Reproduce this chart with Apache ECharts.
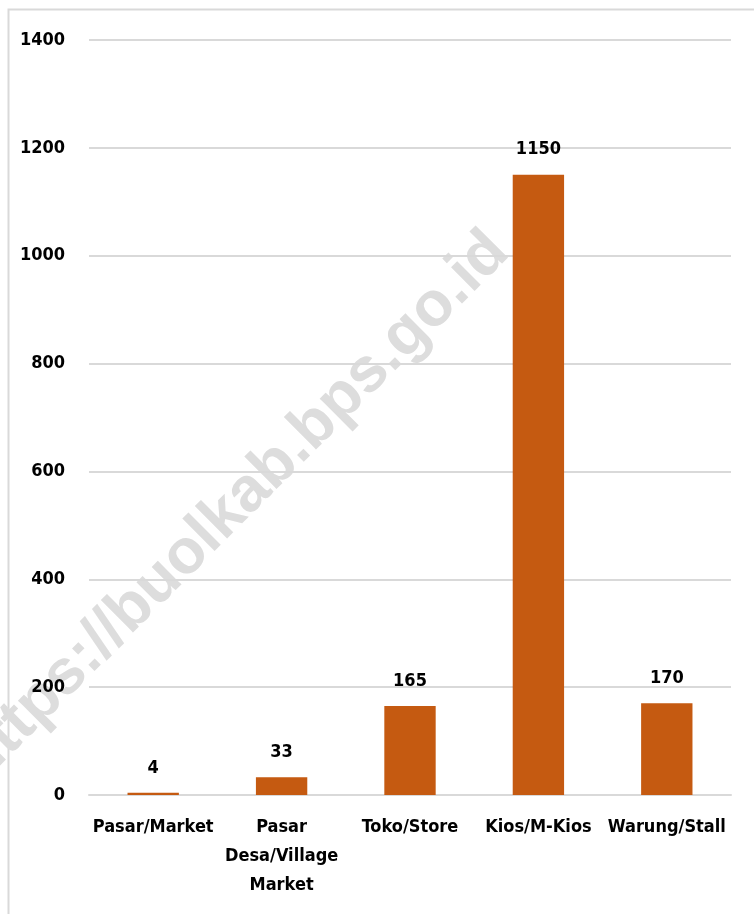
<!DOCTYPE html>
<html>
<head>
<meta charset="utf-8">
<script src="https://cdn.jsdelivr.net/npm/echarts@6/dist/echarts.min.js"></script>
<style>
  html, body { margin: 0; padding: 0; background: #ffffff; }
  #chart { width: 754px; height: 914px; }
</style>
</head>
<body>
<div id="chart"></div>
<script>
// Outlet types (category axis)
const categories = ['Pasar/Market', 'Pasar\nDesa/Village\nMarket', 'Toko/Store', 'Kios/M-Kios', 'Warung/Stall'];
// Number of outlets per type
const counts = [4, 33, 165, 1150, 170];
// Value axis ticks
const yTicks = [0, 200, 400, 600, 800, 1000, 1200, 1400];

const FONT = '"DejaVu Sans Condensed", "Liberation Sans Narrow", sans-serif';
const chart = echarts.init(document.getElementById('chart'), null, { renderer: 'canvas' });

chart.setOption({
  backgroundColor: '#ffffff',
  animation: false,
  grid: { left: 89, right: 23, top: 40, bottom: 119 },
  graphic: [
    {
      type: 'rect',
      z: -20,
      silent: true,
      shape: { x: 8.5, y: 9.5, width: 900, height: 1000 },
      style: { fill: 'none', stroke: '#d9d9d9', lineWidth: 2 }
    },
    {
      // diagonal site watermark
      type: 'text',
      z: -10,
      silent: true,
      x: 234,
      y: 507,
      rotation: Math.PI / 4,
      style: {
        text: 'https://buolkab.bps.go.id',
        font: 'bold 63px "Liberation Sans", Arial, sans-serif',
        fill: '#dddddd',
        align: 'center',
        verticalAlign: 'middle'
      }
    }
  ],
  xAxis: {
    type: 'category',
    data: categories,
    axisTick: { show: false },
    axisLine: { show: true, lineStyle: { color: '#d9d9d9', width: 2 } },
    axisLabel: {
      interval: 0,
      margin: 18,
      color: '#000000',
      fontFamily: FONT,
      fontWeight: 'bold',
      fontSize: 18,
      lineHeight: 29
    }
  },
  yAxis: {
    type: 'value',
    min: yTicks[0],
    max: yTicks[yTicks.length - 1],
    interval: yTicks[1] - yTicks[0],
    axisLine: { show: false },
    axisTick: { show: false },
    splitLine: { lineStyle: { color: '#d9d9d9', width: 2 } },
    axisLabel: {
      margin: 24,
      color: '#000000',
      fontFamily: FONT,
      fontWeight: 'bold',
      fontSize: 18,
      formatter: v => String(v)
    }
  },
  series: [{
    type: 'bar',
    z: 3,
    data: counts,
    barWidth: '40%',
    itemStyle: { color: '#C55A11' },
    label: {
      show: true,
      position: 'top',
      distance: 16,
      color: '#000000',
      fontFamily: FONT,
      fontWeight: 'bold',
      fontSize: 18
    }
  }]
});
</script>
</body>
</html>
